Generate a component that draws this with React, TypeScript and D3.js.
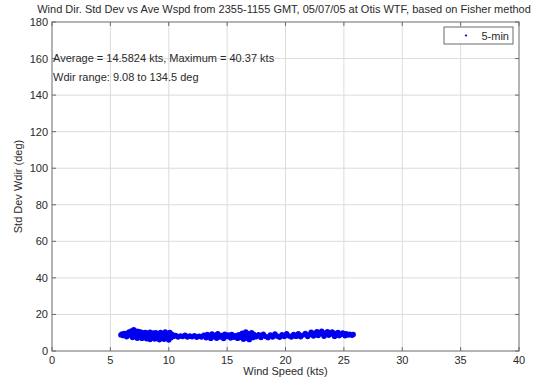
import React from "react";
import * as d3 from "d3";

// 5-minute averaged wind speed (kts) and std dev of wind direction (deg)
const windSpeed: number[] = [
  5.9, 6.0, 6.1, 6.2, 6.3, 6.4, 6.5,
  6.6, 6.7, 6.8, 6.9, 7.0, 7.0, 7.1, 7.2, 7.3, 7.3, 7.4, 7.5, 7.5,
  7.6, 7.7, 7.7, 7.8, 7.9, 8.0, 8.0, 8.1, 8.2, 8.3, 8.4, 8.4, 8.5, 8.6, 8.7, 8.8, 8.8, 8.9,
  9.0, 9.1, 9.2, 9.2, 9.3, 9.4, 9.5, 9.6, 9.6, 9.7, 9.8, 9.9, 10.0, 10.0, 10.1, 10.2, 10.3,
  10.4, 10.6, 10.8, 11.0, 11.2, 11.4, 11.6, 11.8, 12.0, 12.2, 12.4, 12.6, 12.8, 13.0,
  13.2, 13.3, 13.4, 13.6, 13.7, 13.8, 14.0, 14.1, 14.2, 14.4, 14.5, 14.7, 14.8, 15.0, 15.1,
  15.3, 15.4, 15.6, 15.7, 15.9, 16.0,
  16.2, 16.3, 16.4, 16.5, 16.6, 16.7, 16.8, 16.9, 17.0, 17.1, 17.2, 17.3,
  17.5, 17.7, 17.9, 18.1, 18.3, 18.5, 18.7, 18.9, 19.1, 19.3, 19.5, 19.7, 19.9, 20.1, 20.3,
  20.5, 20.7, 20.9, 21.1, 21.3, 21.5, 21.7, 21.9,
  22.1, 22.2, 22.4, 22.5, 22.7, 22.8, 23.0, 23.1, 23.3, 23.4, 23.6, 23.7, 23.9, 24.0, 24.2,
  24.3, 24.5, 24.6, 24.8, 24.9,
  25.1, 25.2, 25.4, 25.5, 25.7, 25.8,
];
const stdDevDir: number[] = [
  8.8, 9.3, 8.4, 9.6, 8.9, 7.8, 9.9,
  10.4, 8.6, 11.0, 7.4, 11.6, 9.2, 10.3, 8.1, 10.9, 7.0, 9.6, 10.6, 7.8,
  8.9, 10.2, 6.9, 9.4, 7.6, 10.1, 8.3, 6.7, 9.7, 7.9, 10.3, 6.3, 8.8, 7.2, 9.9, 6.5, 8.4, 10.0,
  7.3, 9.2, 6.1, 8.0, 10.2, 7.0, 9.5, 6.4, 8.6, 10.4, 7.5, 9.1, 6.0, 8.2, 10.1, 7.2, 9.0,
  8.0, 8.5, 7.7, 8.3, 7.9, 8.6, 7.6, 8.2, 7.8, 8.4, 7.5, 8.1, 7.7, 8.6,
  7.2, 9.0, 8.0, 6.9, 9.3, 7.8, 8.7, 7.0, 9.4, 7.6, 8.5, 6.8, 9.2, 7.9, 8.8,
  7.1, 9.0, 7.5, 8.4, 6.9, 8.9,
  7.4, 9.8, 6.4, 8.6, 10.4, 7.0, 9.4, 6.2, 8.2, 10.0, 7.3, 9.1,
  7.8, 8.9, 7.4, 9.2, 8.0, 7.3, 8.8, 7.7, 9.3, 8.1, 7.5, 8.9, 7.9, 9.4, 8.2,
  7.6, 9.0, 8.0, 9.5, 7.8, 8.7, 9.6, 7.9,
  9.0, 10.3, 8.2, 9.7, 10.6, 8.5, 9.4, 10.8, 8.1, 9.9, 10.5, 8.6, 9.3, 10.4, 8.0,
  9.6, 10.2, 8.4, 9.1, 9.9,
  8.3, 9.4, 8.7, 9.2, 8.6, 9.0,
];

const xTicks = [0, 5, 10, 15, 20, 25, 30, 35, 40];
const yTicks = [0, 20, 40, 60, 80, 100, 120, 140, 160, 180];

const titleText =
  "Wind Dir. Std Dev vs Ave Wspd from 2355-1155 GMT, 05/07/05 at Otis WTF, based on Fisher method";
const statsLine1 = "Average = 14.5824 kts, Maximum = 40.37 kts";
const statsLine2 = "Wdir range: 9.08 to 134.5 deg";
const legendLabel = "5-min";

const W = 537;
const H = 379;
const left = 52;
const right = 519;
const top = 22;
const bottom = 351;

export default function App() {
  const x = d3.scaleLinear().domain([0, 40]).range([left, right]);
  const y = d3.scaleLinear().domain([0, 180]).range([bottom, top]);
  const font = "'Liberation Sans', Arial, sans-serif";
  const frame = "#6a6a6a";
  const grid = "#dcdcdc";
  const txt = "#2a2a2a";
  const blue = "#0000ee";

  return (
    <svg
      width={W}
      height={H}
      style={{ position: "absolute", left: 0, top: 0, background: "#fff" }}
      fontFamily={font}
    >
      <rect x={0} y={0} width={W} height={H} fill="#fff" />
      {/* grid */}
      {xTicks.slice(1, -1).map((t) => (
        <line key={"gx" + t} x1={x(t)} x2={x(t)} y1={top} y2={bottom} stroke={grid} strokeWidth={1} />
      ))}
      {yTicks.slice(1, -1).map((t) => (
        <line key={"gy" + t} x1={left} x2={right} y1={y(t)} y2={y(t)} stroke={grid} strokeWidth={1} />
      ))}
      {/* points */}
      {windSpeed.map((ws, i) => (
        <circle key={i} cx={x(ws)} cy={y(stdDevDir[i])} r={2.7} fill={blue} />
      ))}
      {/* frame */}
      <rect x={left} y={top} width={right - left} height={bottom - top} fill="none" stroke={frame} strokeWidth={1} />
      {/* ticks */}
      {xTicks.map((t) => (
        <g key={"tx" + t}>
          <line x1={x(t)} x2={x(t)} y1={bottom} y2={bottom - 4} stroke={frame} />
          <line x1={x(t)} x2={x(t)} y1={top} y2={top + 4} stroke={frame} />
          <text x={x(t)} y={bottom + 13} fontSize={11} textAnchor="middle" fill={txt}>
            {t}
          </text>
        </g>
      ))}
      {yTicks.map((t) => (
        <g key={"ty" + t}>
          <line x1={left} x2={left + 4} y1={y(t)} y2={y(t)} stroke={frame} />
          <line x1={right} x2={right - 4} y1={y(t)} y2={y(t)} stroke={frame} />
          <text x={left - 4} y={y(t) + 4} fontSize={11} textAnchor="end" fill={txt}>
            {t}
          </text>
        </g>
      ))}
      {/* title and axis labels */}
      <text x={284} y={13} fontSize={11} textAnchor="middle" fill={txt}>
        {titleText}
      </text>
      <text x={(left + right) / 2} y={375} fontSize={11} textAnchor="middle" fill={txt}>
        Wind Speed (kts)
      </text>
      <text
        transform={`translate(22, ${(top + bottom) / 2}) rotate(-90)`}
        fontSize={11}
        textAnchor="middle"
        fill={txt}
      >
        Std Dev Wdir (deg)
      </text>
      {/* annotations */}
      <text x={left + 1} y={62} fontSize={11} fill={txt}>
        {statsLine1}
      </text>
      <text x={left + 1} y={81} fontSize={11} fill={txt}>
        {statsLine2}
      </text>
      {/* legend */}
      <rect x={444} y={27} width={69} height={17} fill="#fff" stroke={frame} strokeWidth={1} />
      <circle cx={466} cy={35.5} r={1.1} fill={blue} />
      <text x={509} y={39.5} fontSize={11} textAnchor="end" fill={txt}>
        {legendLabel}
      </text>
    </svg>
  );
}
